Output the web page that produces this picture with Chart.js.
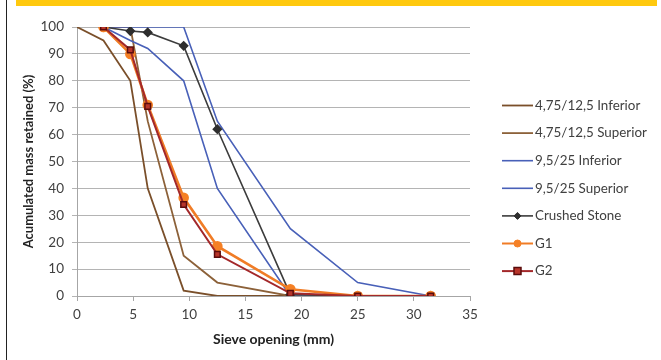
<!DOCTYPE html>
<html lang="en">
<head>
    <meta charset="UTF-8">
    <title>Sieve Analysis Chart</title>
    <script src="https://cdn.jsdelivr.net/npm/chart.js"></script>
    <style>
        body { margin: 0; background: #fff; }
        #wrap { position: relative; width: 661px; height: 360px; }
        #leftLine { position: absolute; left: 6px; top: 0; width: 1px; height: 360px; background: #222; }
        #topBar { position: absolute; left: 16px; top: 0; width: 641px; height: 6px; background: #ffc90e; }
        canvas { position: absolute; left: 0; top: 0; }
    </style>
</head>
<body>
<div id="wrap">
    <canvas id="sieveChart" width="661" height="360"></canvas>
    <div id="leftLine"></div>
    <div id="topBar"></div>
</div>
<script>
    // sieve openings (mm) and accumulated retained (%)
    const seriesNames = ['4,75/12,5 Inferior', '4,75/12,5 Superior', '9,5/25 Inferior', '9,5/25 Superior', 'Crushed Stone', 'G1', 'G2'];

    const infSmallX = [0, 2.36, 4.75, 6.3, 9.5, 12.5, 19];
    const infSmallY = [100, 95, 80, 40, 2, 0, 0];

    const supSmallX = [2.36, 4.75, 6.3, 9.5, 12.5, 19];
    const supSmallY = [100, 100, 65, 15, 5, 0];

    const infLargeX = [2.36, 4.75, 6.3, 9.5, 12.5, 19, 25];
    const infLargeY = [100, 95, 92, 80, 40, 0, 0];

    const supLargeX = [2.36, 4.75, 6.3, 9.5, 12.5, 19, 25, 31.5];
    const supLargeY = [100, 100, 100, 100, 65, 25, 5, 0];

    const sampleX = [2.36, 4.75, 6.3, 9.5, 12.5, 19, 25, 31.5];
    const crushedY = [100, 98.5, 98, 93, 62, 0.5, 0, 0];
    const g1Y = [100, 90, 71, 36.5, 18.5, 2.5, 0, 0];
    const g2Y = [100, 91.5, 70.5, 34, 15.5, 1, 0, 0];

    const yTicks = [0, 10, 20, 30, 40, 50, 60, 70, 80, 90, 100];
    const xTicks = [0, 5, 10, 15, 20, 25, 30, 35];

    function pts(xs, ys) {
        return xs.map((x, i) => ({ x: x, y: ys[i] }));
    }

    Chart.defaults.font.family = 'Lato, "Open Sans", sans-serif';
    Chart.defaults.font.size = 13;
    Chart.defaults.color = '#404040';

    const datasets = [
        { label: seriesNames[0], data: pts(infSmallX, infSmallY), borderColor: '#7a4f2a', borderWidth: 1.8, pointRadius: 0, pointStyle: false, order: 7 },
        { label: seriesNames[1], data: pts(supSmallX, supSmallY), borderColor: '#8c6139', borderWidth: 1.8, pointRadius: 0, pointStyle: false, order: 6 },
        { label: seriesNames[2], data: pts(infLargeX, infLargeY), borderColor: '#4860b8', borderWidth: 1.6, pointRadius: 0, pointStyle: false, order: 5 },
        { label: seriesNames[3], data: pts(supLargeX, supLargeY), borderColor: '#4860b8', borderWidth: 1.6, pointRadius: 0, pointStyle: false, order: 4 },
        { label: seriesNames[4], data: pts(sampleX, crushedY), borderColor: '#3c3c3c', borderWidth: 1.6, pointStyle: 'rectRot', pointRadius: 4, pointBackgroundColor: '#2e2e2e', pointBorderColor: '#2e2e2e', order: 3 },
        { label: seriesNames[5], data: pts(sampleX, g1Y), borderColor: '#f07c26', borderWidth: 2.6, pointStyle: 'circle', pointRadius: 4, pointBackgroundColor: '#f58025', pointBorderColor: '#f58025', order: 2 },
        { label: seriesNames[6], data: pts(sampleX, g2Y), borderColor: '#a3282a', borderWidth: 2, pointStyle: 'rect', pointRadius: 4, pointBackgroundColor: '#b8352a', pointBorderColor: '#5a0c0c', pointBorderWidth: 1.5, order: 1 }
    ];

    // legend drawn by hand so the marker sits on the line like the original
    const sideLegend = {
        id: 'sideLegend',
        afterDraw(chart) {
            const ctx = chart.ctx;
            ctx.save();
            chart.data.datasets.forEach((ds, i) => {
                const y = 105.5 + i * 27.6;
                ctx.strokeStyle = ds.borderColor;
                ctx.lineWidth = Math.min(ds.borderWidth, 2);
                ctx.beginPath();
                ctx.moveTo(502, y);
                ctx.lineTo(533, y);
                ctx.stroke();
                if (ds.pointStyle) {
                    const cx = 517.5, r = 3.5;
                    ctx.fillStyle = ds.pointBackgroundColor;
                    ctx.strokeStyle = ds.pointBorderColor;
                    ctx.lineWidth = ds.pointBorderWidth || 1;
                    ctx.beginPath();
                    if (ds.pointStyle === 'circle') {
                        ctx.arc(cx, y, r, 0, Math.PI * 2);
                    } else if (ds.pointStyle === 'rect') {
                        ctx.rect(cx - r, y - r, r * 2, r * 2);
                    } else {
                        ctx.moveTo(cx, y - r); ctx.lineTo(cx + r, y); ctx.lineTo(cx, y + r); ctx.lineTo(cx - r, y); ctx.closePath();
                    }
                    ctx.fill();
                    ctx.stroke();
                }
                ctx.fillStyle = '#404040';
                ctx.font = '13.4px Lato, "Open Sans", sans-serif';
                ctx.textBaseline = 'middle';
                ctx.textAlign = 'left';
                ctx.fillText(ds.label, 535, y);
            });
            ctx.restore();
        }
    };

    new Chart(document.getElementById('sieveChart'), {
        type: 'line',
        data: { datasets: datasets },
        options: {
            responsive: false,
            animation: false,
            events: [],
            layout: { padding: { left: 10, top: 27, right: 191, bottom: 0 } },
            plugins: { legend: { display: false }, tooltip: { enabled: false } },
            elements: { line: { tension: 0 } },
            scales: {
                x: {
                    type: 'linear',
                    min: 0,
                    max: 35,
                    afterFit: s => { s.height = 64; },
                    afterBuildTicks: s => { s.ticks = xTicks.map(v => ({ value: v })); },
                    grid: { drawOnChartArea: false, drawTicks: true, tickLength: 5, color: '#a6a6a6' },
                    border: { color: '#a6a6a6' },
                    ticks: { padding: 6, maxRotation: 0, color: '#404040', font: { size: 13.5 } },
                    title: { display: true, text: 'Sieve opening (mm)', font: { weight: 'bold', size: 14 }, padding: { top: 0, bottom: 12 }, color: '#222' }
                },
                y: {
                    min: 0,
                    max: 100,
                    afterFit: s => { s.width = 67; },
                    afterBuildTicks: s => { s.ticks = yTicks.map(v => ({ value: v })); },
                    grid: { color: '#b4b4b4', tickLength: 5 },
                    border: { color: '#a6a6a6' },
                    ticks: { padding: 8, color: '#404040', font: { size: 13.5 } },
                    title: { display: true, text: 'Acumulated mass retained (%)', font: { weight: 'bold', size: 13 }, padding: { top: 11, bottom: 0 }, color: '#222' }
                }
            }
        },
        plugins: [sideLegend]
    });
</script>
</body>
</html>
